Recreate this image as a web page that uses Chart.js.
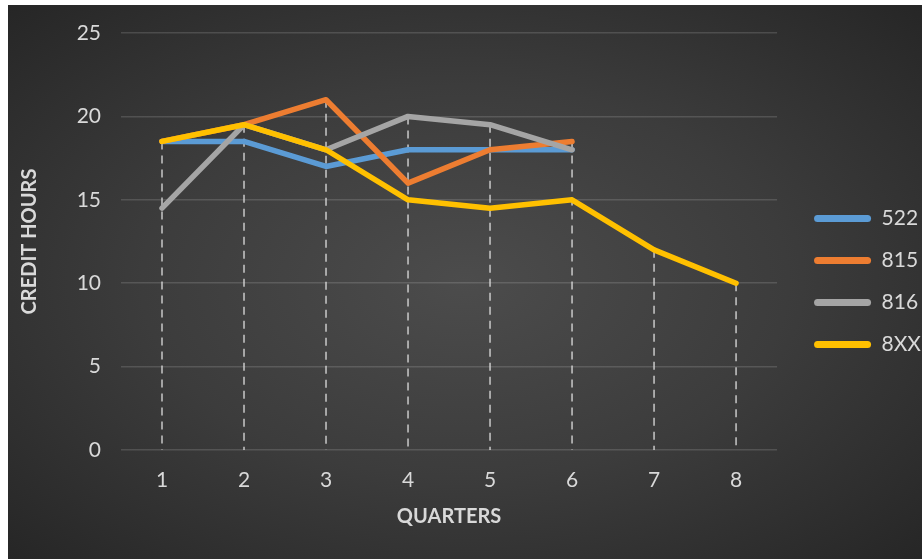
<!DOCTYPE html>
<html>
<head>
<meta charset="utf-8">
<script src="https://cdn.jsdelivr.net/npm/chart.js@4/dist/chart.umd.min.js"></script>
<style>
  html, body { margin: 0; padding: 0; background: #fff; overflow: hidden; }
  #box {
    position: absolute; left: 8px; top: 5px; width: 914px; height: 554px; overflow: hidden;
    background: radial-gradient(ellipse at 50% 50%, #4c4c4c 0%, #3c3c3c 50%, #262626 100%);
  }
  #wrap { position: absolute; left: 0; top: 0; width: 940px; height: 554px; }
</style>
</head>
<body>
<div id="box"><div id="wrap"><canvas id="c"></canvas></div></div>
<script>
// 季度（x 軸類別）
const quarters = ['1', '2', '3', '4', '5', '6', '7', '8'];
// 各課程的學分時數
const s522 = [18.5, 18.5, 17, 18, 18, 18, null, null];
const s815 = [18.5, 19.5, 21, 16, 18, 18.5, null, null];
const s816 = [14.5, 19.5, 18, 20, 19.5, 18, null, null];
const s8xx = [18.5, 19.5, 18, 15, 14.5, 15, 12, 10];
const yTicks = [0, 5, 10, 15, 20, 25];

const txt = '#d9d9d9';
const font = 'Lato, "Open Sans", sans-serif';

// dropLines: 每個類別從最高點畫虛線到 0
const dropLines = {
    id: 'dropLines',
    beforeDatasetsDraw(chart) {
        const { ctx } = chart, xs = chart.scales.x, ys = chart.scales.y;
        ctx.save();
        ctx.strokeStyle = 'rgba(225,225,225,0.85)';
        ctx.lineWidth = 1.5;
        ctx.setLineDash([8, 6]);
        quarters.forEach((q, i) => {
            const vals = chart.data.datasets.map(d => d.data[i]).filter(v => v != null);
            if (!vals.length) return;
            const x = xs.getPixelForValue(i);
            ctx.beginPath();
            ctx.moveTo(x, ys.getPixelForValue(Math.max(...vals)));
            ctx.lineTo(x, ys.getPixelForValue(0));
            ctx.stroke();
        });
        ctx.restore();
    }
};

const mk = (label, data, col, order) => ({
    label, data, borderColor: col, backgroundColor: col, borderWidth: 5.5,
    pointRadius: 0, pointHoverRadius: 0, borderCapStyle: 'round', borderJoinStyle: 'round',
    tension: 0, spanGaps: false, order
});

new Chart(document.getElementById('c'), {
    type: 'line',
    data: {
        labels: quarters,
        datasets: [
            mk('522', s522, '#5b9bd5', 4),
            mk('815', s815, '#ed7d31', 3),
            mk('816', s816, '#a5a5a5', 2),
            mk('8XX', s8xx, '#ffc000', 1),
        ]
    },
    plugins: [dropLines],
    options: {
        responsive: true, maintainAspectRatio: false, animation: false,
        layout: { padding: { left: 0, right: 17, top: 28, bottom: 29 } },
        plugins: {
            tooltip: { enabled: false },
            legend: {
                position: 'right',
                labels: {
                    color: txt, font: { family: font, size: 21 },
                    boxWidth: 57, boxHeight: 7, padding: 21,
                    useBorderRadius: true, borderRadius: 3.5,
                    sort: (a, b) => a.datasetIndex - b.datasetIndex,
                    generateLabels: ch => Chart.defaults.plugins.legend.labels.generateLabels(ch).map(l => ({ ...l, lineWidth: 0 }))
                }
            }
        },
        scales: {
            x: {
                offset: true,
                afterFit: s => { s.height = 80; },
                grid: { display: false, drawTicks: false },
                border: { display: false },
                ticks: { color: txt, font: { family: font, size: 21 }, padding: 18 },
                title: { display: true, text: 'QUARTERS', color: txt, font: { family: font, size: 20, weight: 'bold' }, padding: { top: 0, bottom: 1 } }
            },
            y: {
                min: 0, max: 25,
                afterBuildTicks: s => { s.ticks = yTicks.map(v => ({ value: v })); },
                afterFit: s => { s.width = 113; s.paddingTop = 0; s.paddingBottom = 0; },
                grid: { color: 'rgba(255,255,255,0.14)', lineWidth: 1.5, drawTicks: false },
                border: { display: false },
                ticks: { color: txt, font: { family: font, size: 21 }, padding: 20 },
                title: { display: true, text: 'CREDIT HOURS', color: txt, font: { family: font, size: 20, weight: 'bold' }, padding: { top: 10, bottom: 0 } }
            },
            yR: {
                position: 'right', display: true,
                afterFit: s => { s.width = 16; },
                grid: { display: false, drawTicks: false },
                border: { display: false },
                ticks: { display: false }
            }
        }
    }
});
</script>
</body>
</html>
